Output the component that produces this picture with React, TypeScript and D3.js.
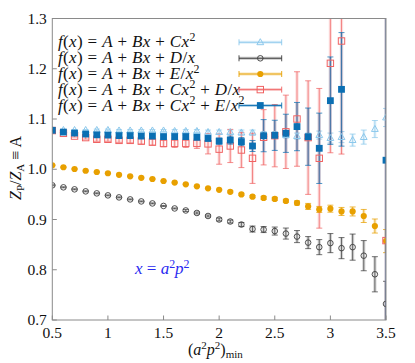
import React from "react";
import * as d3 from "d3";

const xs = [0.5, 0.6, 0.7, 0.8, 0.9, 1.0, 1.1, 1.2, 1.3, 1.4, 1.5, 1.6, 1.7, 1.8, 1.9, 2.0, 2.1, 2.2, 2.3, 2.4, 2.5, 2.6, 2.7, 2.8, 2.9, 3.0, 3.1, 3.2, 3.3, 3.4, 3.5];

const xTicks = [0.5, 1, 1.5, 2, 2.5, 3, 3.5];
const xTickLabels = ["0.5", "1", "1.5", "2", "2.5", "3", "3.5"];
const yTicks = [0.7, 0.8, 0.9, 1.0, 1.1, 1.2, 1.3];
const yTickLabels = ["0.7", "0.8", "0.9", "1.0", "1.1", "1.2", "1.3"];

// f(x) = A + Bx + Cx^2  (light blue triangles)
const s1Vals = [1.079, 1.078, 1.078, 1.078, 1.078, 1.078, 1.077, 1.077, 1.077, 1.077, 1.077, 1.076, 1.076, 1.076, 1.074, 1.074, 1.074, 1.073, 1.073, 1.069, 1.069, 1.068, 1.066, 1.065, 1.068, 1.062, 1.064, 1.058, 1.064, 1.080, 1.103];
const s1Errs = [0.001, 0.001, 0.001, 0.001, 0.002, 0.002, 0.002, 0.002, 0.002, 0.002, 0.002, 0.003, 0.003, 0.003, 0.004, 0.004, 0.004, 0.005, 0.005, 0.006, 0.006, 0.006, 0.006, 0.007, 0.008, 0.010, 0.011, 0.012, 0.014, 0.017, 0.018];

// f(x) = A + Bx + D/x  (dark open circles)
const s2Vals = [0.968, 0.964, 0.960, 0.956, 0.952, 0.948, 0.944, 0.940, 0.936, 0.932, 0.927, 0.922, 0.918, 0.913, 0.907, 0.900, 0.896, 0.890, 0.881, 0.880, 0.877, 0.872, 0.866, 0.854, 0.845, 0.853, 0.843, 0.845, 0.828, 0.791, 0.732];
const s2Errs = [0.001, 0.001, 0.001, 0.001, 0.001, 0.001, 0.001, 0.001, 0.001, 0.001, 0.001, 0.001, 0.002, 0.002, 0.002, 0.003, 0.003, 0.004, 0.006, 0.006, 0.008, 0.011, 0.012, 0.012, 0.015, 0.019, 0.021, 0.026, 0.030, 0.035, 0.045];

// f(x) = A + Bx + E/x^2  (orange filled circles)
const s3Vals = [1.008, 1.004, 1.0005, 0.997, 0.9945, 0.992, 0.989, 0.986, 0.983, 0.9806, 0.9766, 0.9735, 0.970, 0.966, 0.962, 0.959, 0.955, 0.950, 0.9455, 0.943, 0.941, 0.937, 0.933, 0.926, 0.920, 0.9215, 0.916, 0.916, 0.907, 0.887, 0.857];
const s3Errs = [0.001, 0.001, 0.001, 0.001, 0.001, 0.001, 0.001, 0.001, 0.001, 0.001, 0.001, 0.001, 0.001, 0.001, 0.001, 0.001, 0.002, 0.002, 0.002, 0.003, 0.003, 0.003, 0.004, 0.006, 0.006, 0.007, 0.008, 0.009, 0.013, 0.014, 0.023];

// f(x) = A + Bx + Cx^2 + D/x  (red open squares)
const s4Vals = [1.077, 1.0715, 1.066, 1.063, 1.0596, 1.0596, 1.0575, 1.0575, 1.056, 1.054, 1.0515, 1.0515, 1.0515, 1.0515, 1.0505, 1.040, 1.0463, 1.0383, 1.0218, 1.0636, 1.0668, 1.0745, 1.100, 1.063, 1.0218, 1.2108, 1.2552, null, null, null, 0.858];
const s4Errs = [0.002, 0.002, 0.002, 0.003, 0.004, 0.004, 0.004, 0.005, 0.006, 0.006, 0.007, 0.008, 0.008, 0.010, 0.020, 0.030, 0.033, 0.035, 0.050, 0.055, 0.062, 0.073, 0.094, 0.113, 0.139, 0.178, 0.225, null, null, null, 0.6];

// f(x) = A + Bx + Cx^2 + E/x^2  (blue filled squares)
const s5Vals = [1.0775, 1.074, 1.072, 1.070, 1.0685, 1.068, 1.067, 1.067, 1.066, 1.066, 1.065, 1.065, 1.065, 1.0635, 1.0613, 1.056, 1.058, 1.055, 1.0463, 1.0668, 1.0675, 1.0715, 1.0849, 1.0648, 1.0417, 1.1365, 1.159, null, null, null, 1.018];
const s5Errs = [0.002, 0.002, 0.002, 0.002, 0.002, 0.002, 0.002, 0.002, 0.002, 0.002, 0.003, 0.003, 0.003, 0.003, 0.005, 0.006, 0.008, 0.008, 0.011, 0.032, 0.030, 0.038, 0.048, 0.057, 0.070, 0.087, 0.113, null, null, null, 0.6];

const seriesLabels = [
  "f(x) = A + Bx + Cx^2",
  "f(x) = A + Bx + D/x",
  "f(x) = A + Bx + E/x^2",
  "f(x) = A + Bx + Cx^2 + D/x",
  "f(x) = A + Bx + Cx^2 + E/x^2",
];
const seriesColors = ["#8cc8ec", "#3c3c3c", "#e8a000", "#f06262", "#0b6fb3"];
const seriesShapes = ["triangleOpen", "circleOpen", "circleFilled", "squareOpen", "squareFilled"];
const seriesVals = [s1Vals, s2Vals, s3Vals, s4Vals, s5Vals];
const seriesErrs = [s1Errs, s2Errs, s3Errs, s4Errs, s5Errs];

const W = 415;
const H = 363;
const M = { left: 52.3, right: 386, top: 18.5, bottom: 320 };
const SERIF = "Liberation Serif, Times New Roman, Times, serif";

const xScale = d3.scaleLinear().domain([0.5, 3.5]).range([M.left, M.right]);
const yScale = d3.scaleLinear().domain([0.7, 1.3]).range([M.bottom, M.top]);

function Marker({ shape, cx, cy, color }: { shape: string; cx: number; cy: number; color: string }) {
  const s = 3.2;
  if (shape === "triangleOpen") {
    const pts = `${cx},${cy - 3.6} ${cx - 3.4},${cy + 2.4} ${cx + 3.4},${cy + 2.4}`;
    return <polygon points={pts} fill="none" stroke={color} strokeWidth={1} />;
  }
  if (shape === "circleOpen") return <circle cx={cx} cy={cy} r={2.8} fill="none" stroke={color} strokeWidth={0.9} />;
  if (shape === "circleFilled") return <circle cx={cx} cy={cy} r={3.1} fill={color} />;
  if (shape === "squareOpen")
    return <rect x={cx - s} y={cy - s} width={2 * s} height={2 * s} fill="none" stroke={color} strokeWidth={1} />;
  return <rect x={cx - 3.4} y={cy - 3.4} width={6.8} height={6.8} fill={color} />;
}

function ErrBar({ cx, y0, y1, color }: { cx: number; y0: number; y1: number; color: string }) {
  return (
    <g>
      <line x1={cx} x2={cx} y1={y0} y2={y1} stroke={color} strokeOpacity={0.22} strokeWidth={3.2} />
      <line x1={cx} x2={cx} y1={y0} y2={y1} stroke={color} strokeOpacity={0.9} strokeWidth={0.8} />
      <line x1={cx - 3} x2={cx + 3} y1={y0} y2={y0} stroke={color} strokeOpacity={0.9} strokeWidth={0.8} />
      <line x1={cx - 3} x2={cx + 3} y1={y1} y2={y1} stroke={color} strokeOpacity={0.9} strokeWidth={0.8} />
    </g>
  );
}

type Run = { t: string; italic: boolean; sup: boolean };

function tokenize(text: string): Run[] {
  const runs: Run[] = [];
  let i = 0;
  while (i < text.length) {
    const ch = text[i];
    if (ch === "^") {
      runs.push({ t: text[i + 1], italic: false, sup: true });
      i += 2;
      continue;
    }
    const italic = /[A-Za-z]/.test(ch);
    const last = runs[runs.length - 1];
    if (last && !last.sup && last.italic === italic) last.t += ch;
    else runs.push({ t: ch, italic, sup: false });
    i++;
  }
  return runs;
}

function MathText({ text, x, y, size, color = "#111", spacing = 0 }: { text: string; x: number; y: number; size: number; color?: string; spacing?: number }) {
  const runs = tokenize(text);
  const up = size * 0.38;
  let shifted = false;
  const nodes = runs.map((r, k) => {
    let dy = 0;
    if (r.sup && !shifted) { dy = -up; shifted = true; }
    else if (!r.sup && shifted) { dy = up; shifted = false; }
    return (
      <tspan key={k} dy={dy || undefined} fontSize={r.sup ? size * 0.7 : size} fontStyle={r.italic ? "italic" : "normal"}>
        {r.t}
      </tspan>
    );
  });
  return (
    <text x={x} y={y} fontSize={size} fill={color} letterSpacing={spacing} style={{ whiteSpace: "pre", fontFamily: SERIF }}>
      {nodes}
    </text>
  );
}

export default function App() {
  const legendY = [42.3, 58.3, 74, 89.6, 105.5];
  const lx0 = 239, lx1 = 281.7, lxm = 260.3;
  return (
    <svg width={W} height={H} style={{ position: "absolute", left: 0, top: 0, background: "#fff", fontFamily: SERIF }}>
      <defs>
        <clipPath id="plotClip">
          <rect x={M.left} y={M.top} width={M.right - M.left} height={M.bottom - M.top} />
        </clipPath>
      </defs>
      <rect width={W} height={H} fill="#fff" />

      {/* data */}
      <g clipPath="url(#plotClip)">
        {seriesVals.map((vals, si) => (
          <g key={"e" + si}>
            {vals.map((v, i) => {
              const e = seriesErrs[si][i];
              if (v == null || e == null) return null;
              return (
                <ErrBar key={i} cx={xScale(xs[i])} y0={yScale(v + e)} y1={yScale(v - e)} color={seriesColors[si]} />
              );
            })}
          </g>
        ))}
        {seriesVals.map((vals, si) => (
          <g key={"m" + si}>
            {vals.map((v, i) =>
              v == null ? null : (
                <Marker key={i} shape={seriesShapes[si]} cx={xScale(xs[i])} cy={yScale(v)} color={seriesColors[si]} />
              )
            )}
          </g>
        ))}
      </g>

      {/* frame */}
      <rect x={M.left} y={M.top} width={M.right - M.left} height={M.bottom - M.top} fill="none" stroke="#8a8a8a" strokeWidth={1} />

      {/* ticks */}
      {yTicks.map((t, i) => (
        <g key={"y" + i}>
          <line x1={M.left} x2={M.left + 4.5} y1={yScale(t)} y2={yScale(t)} stroke="#8a8a8a" />
          <text x={M.left - 5.5} y={yScale(t) + 5} textAnchor="end" fontSize={15.5} fill="#111" style={{ fontFamily: SERIF }}>
            {yTickLabels[i]}
          </text>
        </g>
      ))}
      {xTicks.map((t, i) => (
        <g key={"x" + i}>
          <line x1={xScale(t)} x2={xScale(t)} y1={M.bottom} y2={M.bottom - 4.5} stroke="#8a8a8a" />
          <text x={xScale(t)} y={337.5} textAnchor="middle" fontSize={15.5} fill="#111" style={{ fontFamily: SERIF }}>
            {xTickLabels[i]}
          </text>
        </g>
      ))}

      {/* axis labels */}
      <text transform="translate(21,168) rotate(-90)" textAnchor="middle" fontSize={16} fill="#111" style={{ fontFamily: SERIF }}>
        <tspan fontStyle="italic">Z</tspan>
        <tspan dy={3} fontSize={11}>P</tspan>
        <tspan dy={-3}>/</tspan>
        <tspan fontStyle="italic">Z</tspan>
        <tspan dy={3} fontSize={11}>A</tspan>
        <tspan dy={-3}>{" \u2261 A"}</tspan>
      </text>
      <text x={188} y={355} fontSize={16} fill="#111" style={{ fontFamily: SERIF }}>
        <tspan>(</tspan>
        <tspan fontStyle="italic">a</tspan>
        <tspan dy={-6} fontSize={11}>2</tspan>
        <tspan dy={6} fontStyle="italic">p</tspan>
        <tspan dy={-6} fontSize={11}>2</tspan>
        <tspan dy={6}>)</tspan>
        <tspan dy={3} fontSize={11}>min</tspan>
      </text>

      {/* annotation */}
      <MathText text="x = a^2p^2" x={135} y={274} size={17} color="#2a2af0" />

      {/* legend */}
      {seriesLabels.map((lab, si) => (
        <g key={"l" + si}>
          <MathText text={lab} x={58} y={legendY[si] + 5} size={17} spacing={0.35} />
          <line x1={lx0} x2={lx1} y1={legendY[si]} y2={legendY[si]} stroke={seriesColors[si]} strokeOpacity={0.3} strokeWidth={3} />
          <line x1={lx0} x2={lx1} y1={legendY[si]} y2={legendY[si]} stroke={seriesColors[si]} strokeWidth={0.9} />
          <line x1={lx0} x2={lx0} y1={legendY[si] - 3} y2={legendY[si] + 3} stroke={seriesColors[si]} strokeWidth={0.9} />
          <line x1={lx1} x2={lx1} y1={legendY[si] - 3} y2={legendY[si] + 3} stroke={seriesColors[si]} strokeWidth={0.9} />
          <Marker shape={seriesShapes[si]} cx={lxm} cy={legendY[si]} color={seriesColors[si]} />
        </g>
      ))}
    </svg>
  );
}
